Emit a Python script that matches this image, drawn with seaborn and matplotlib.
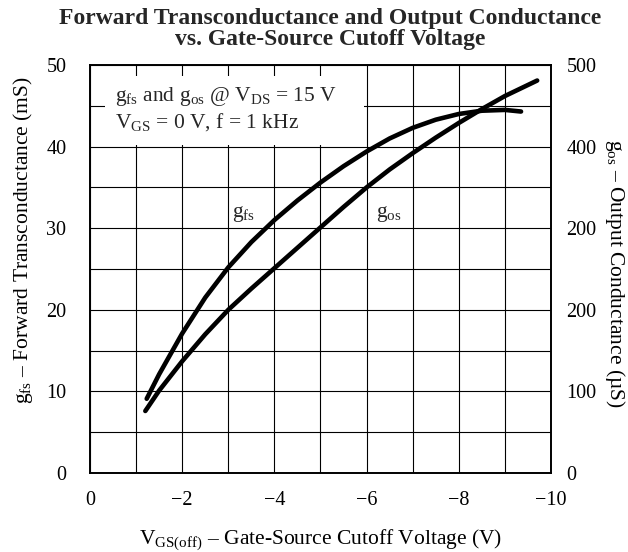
import matplotlib
matplotlib.use('Agg')
import matplotlib.pyplot as plt
import seaborn as sns
import pandas as pd
from matplotlib.patches import Rectangle
from matplotlib.ticker import MultipleLocator

# values
vgs_gfs = [-1.23, -1.5, -2.0, -2.5, -3.0, -3.5, -4.0, -4.5, -5.0, -5.5, -6.0, -6.5, -7.0, -7.5, -8.0, -8.5, -9.0, -9.35]
gfs_ms = [9.1, 12.1, 17.1, 21.5, 25.2, 28.3, 31.0, 33.4, 35.6, 37.6, 39.4, 41.0, 42.3, 43.3, 44.0, 44.4, 44.5, 44.3]

vgs_gos = [-1.2, -1.5, -2.0, -2.5, -3.0, -3.5, -4.0, -4.5, -5.0, -5.5, -6.0, -6.5, -7.0, -7.5, -8.0, -8.5, -9.0, -9.7]
gos_us = [76, 101, 137, 170, 200, 226, 251, 276, 301, 326, 350, 372, 392, 411, 429, 446, 462, 481]

x_ticks = [0, -2, -4, -6, -8, -10]
left_ticks = [0, 10, 20, 30, 40, 50]
right_ticks = [0, 100, 200, 300, 400, 500]
right_labels = ['0', '100', '200', '200', '400', '500']  # as printed on the sheet

sns.set_theme(style='white')
plt.rcParams['font.family'] = ['Liberation Serif', 'DejaVu Serif']
plt.rcParams['mathtext.fontset'] = 'custom'
plt.rcParams['mathtext.rm'] = 'Liberation Serif'
plt.rcParams['mathtext.it'] = 'Liberation Serif:italic'
plt.rcParams['mathtext.bf'] = 'Liberation Serif:bold'

fig = plt.figure(figsize=(6.28, 5.52), dpi=100)
ax = fig.add_axes([0.1433, 0.1431, 0.7341, 0.7391])
ax2 = ax.twinx()

df_gfs = pd.DataFrame({'vgs': vgs_gfs, 'gfs': gfs_ms})
df_gos = pd.DataFrame({'vgs': vgs_gos, 'gos': gos_us})
sns.lineplot(data=df_gfs, x='vgs', y='gfs', ax=ax, color='black', lw=3.3,
             sort=False, solid_capstyle='round', solid_joinstyle='round', zorder=4)
sns.lineplot(data=df_gos, x='vgs', y='gos', ax=ax2, color='black', lw=3.3,
             sort=False, solid_capstyle='round', solid_joinstyle='round', zorder=4)

ax.set_xlim(0, -10)
ax.set_ylim(0, 50)
ax2.set_ylim(0, 500)

ax.set_xticks(x_ticks)
ax.xaxis.set_minor_locator(MultipleLocator(1))
ax.set_yticks(left_ticks)
ax.yaxis.set_minor_locator(MultipleLocator(5))
ax2.set_yticks(right_ticks, right_labels)

ax.set_axisbelow(True)
ax.grid(which='both', color='black', lw=0.8)
ax2.grid(False)

ax.tick_params(axis='x', which='both', length=0, labelsize=14.5, pad=13, colors='black')
ax.tick_params(axis='y', which='both', length=0, labelsize=14.5, pad=17, colors='black')
ax2.tick_params(axis='y', length=0, labelsize=14.5, pad=11, colors='black')

for a in (ax, ax2):
    for s in a.spines.values():
        s.set_color('black')
        s.set_linewidth(1.2)

ax.set_xlabel(r'V$_\mathrm{GS(off)}$ – Gate-Source Cutoff Voltage (V)', fontsize=15.5, color='black')
ax.xaxis.set_label_coords(0.5, -0.163)
ax.xaxis.label.set_va('center')
ax.set_ylabel(r'g$_\mathrm{fs}$ – Forward Transconductance (mS)', fontsize=15.5, color='black')
ax.yaxis.set_label_coords(-0.145, 0.57)
ax.yaxis.label.set_va('center')
ax2.set_ylabel(r'g$_\mathrm{os}$ – Output Conductance (µS)', fontsize=15.5, color='black', rotation=270)
ax2.yaxis.set_label_coords(1.139, 0.49)
ax2.yaxis.label.set_va('center')

# white box behind the test conditions
ax.add_patch(Rectangle((-0.33, 40.15), -5.62, 8.45, facecolor='white', edgecolor='none', zorder=1))
ax.text(-0.55, 44.6, 'g$_\\mathrm{fs}$ and g$_\\mathrm{os}$ @ V$_\\mathrm{DS}$ = 15 V\nV$_\\mathrm{GS}$ = 0 V, f = 1 kHz',
        ha='left', va='center', fontsize=15.5, linespacing=1.22, zorder=3)

lbl_box = dict(facecolor='white', edgecolor='none', pad=2)
ax.text(-3.34, 31.8, r'g$_\mathrm{fs}$', ha='center', va='center', fontsize=15.5, bbox=lbl_box, zorder=3)
ax.text(-6.48, 31.8, r'g$_\mathrm{os}$', ha='center', va='center', fontsize=15.5, bbox=lbl_box, zorder=3)

fig.text(0.5255, 1 - 29 / 552, 'Forward Transconductance and Output Conductance\nvs. Gate-Source Cutoff Voltage',
         ha='center', va='center', fontsize=17, fontweight='bold', linespacing=1.0)

fig.savefig('out.png', dpi=100)
